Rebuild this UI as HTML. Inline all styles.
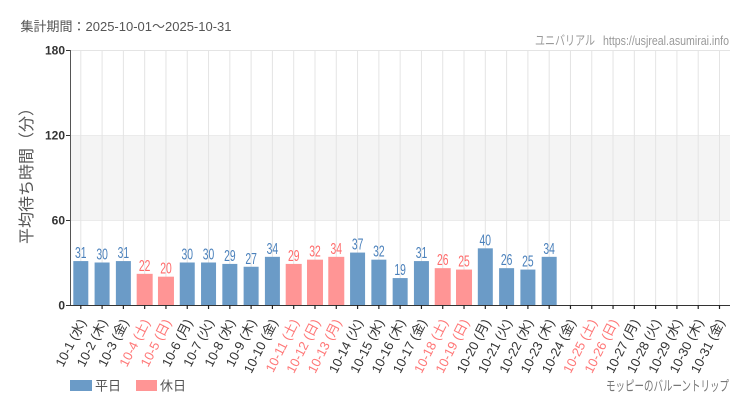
<!DOCTYPE html>
<html><head><meta charset="utf-8"><style>
html,body{margin:0;padding:0;background:#fff;}
svg{display:block;}
text{font-family:"Liberation Sans","Noto Sans CJK JP",sans-serif;}
</style></head><body>
<svg width="750" height="410" viewBox="0 0 750 410" xmlns="http://www.w3.org/2000/svg">
<rect width="750" height="410" fill="#fff"/>
<text x="20.5" y="31" font-size="13" fill="#555">集計期間：2025-10-01～2025-10-31</text>
<text x="535" y="45" font-size="13" fill="#999" textLength="60" lengthAdjust="spacingAndGlyphs">ユニバリアル</text>
<text x="603" y="45" font-size="13" fill="#999" textLength="126" lengthAdjust="spacingAndGlyphs">https://usjreal.asumirai.info</text>
<!-- band -->
<rect x="70" y="135" width="660" height="85" fill="#f4f4f4"/>
<line x1="70" y1="50.5" x2="730" y2="50.5" stroke="#e4e4e4" stroke-width="1"/>
<line x1="70" y1="135.5" x2="730" y2="135.5" stroke="#ebebeb" stroke-width="1"/>
<line x1="70" y1="220.5" x2="730" y2="220.5" stroke="#ebebeb" stroke-width="1"/>
<g stroke="#e4e4e4" stroke-width="1">
<line x1="80.8" y1="50" x2="80.8" y2="305"/><line x1="102.09" y1="50" x2="102.09" y2="305"/><line x1="123.38" y1="50" x2="123.38" y2="305"/><line x1="144.67" y1="50" x2="144.67" y2="305"/><line x1="165.96" y1="50" x2="165.96" y2="305"/><line x1="187.25" y1="50" x2="187.25" y2="305"/><line x1="208.54" y1="50" x2="208.54" y2="305"/><line x1="229.83" y1="50" x2="229.83" y2="305"/><line x1="251.12" y1="50" x2="251.12" y2="305"/><line x1="272.41" y1="50" x2="272.41" y2="305"/><line x1="293.7" y1="50" x2="293.7" y2="305"/><line x1="314.99" y1="50" x2="314.99" y2="305"/><line x1="336.28" y1="50" x2="336.28" y2="305"/><line x1="357.57" y1="50" x2="357.57" y2="305"/><line x1="378.86" y1="50" x2="378.86" y2="305"/><line x1="400.15" y1="50" x2="400.15" y2="305"/><line x1="421.44" y1="50" x2="421.44" y2="305"/><line x1="442.73" y1="50" x2="442.73" y2="305"/><line x1="464.02" y1="50" x2="464.02" y2="305"/><line x1="485.31" y1="50" x2="485.31" y2="305"/><line x1="506.6" y1="50" x2="506.6" y2="305"/><line x1="527.89" y1="50" x2="527.89" y2="305"/><line x1="549.18" y1="50" x2="549.18" y2="305"/><line x1="570.47" y1="50" x2="570.47" y2="305"/><line x1="591.76" y1="50" x2="591.76" y2="305"/><line x1="613.05" y1="50" x2="613.05" y2="305"/><line x1="634.34" y1="50" x2="634.34" y2="305"/><line x1="655.63" y1="50" x2="655.63" y2="305"/><line x1="676.92" y1="50" x2="676.92" y2="305"/><line x1="698.21" y1="50" x2="698.21" y2="305"/><line x1="719.5" y1="50" x2="719.5" y2="305"/>
</g>
<!-- bars -->
<g fill="#6b9bc7">
<rect x="73.3" y="261.08" width="15" height="43.92"/>
<rect x="94.59" y="262.5" width="15" height="42.5"/>
<rect x="115.88" y="261.08" width="15" height="43.92"/>
<rect x="179.75" y="262.5" width="15" height="42.5"/>
<rect x="201.04" y="262.5" width="15" height="42.5"/>
<rect x="222.33" y="263.92" width="15" height="41.08"/>
<rect x="243.62" y="266.75" width="15" height="38.25"/>
<rect x="264.91" y="256.83" width="15" height="48.17"/>
<rect x="350.07" y="252.58" width="15" height="52.42"/>
<rect x="371.36" y="259.67" width="15" height="45.33"/>
<rect x="392.65" y="278.08" width="15" height="26.92"/>
<rect x="413.94" y="261.08" width="15" height="43.92"/>
<rect x="477.81" y="248.33" width="15" height="56.67"/>
<rect x="499.1" y="268.17" width="15" height="36.83"/>
<rect x="520.39" y="269.58" width="15" height="35.42"/>
<rect x="541.68" y="256.83" width="15" height="48.17"/>
</g>
<g fill="#ff9595">
<rect x="136.67" y="273.83" width="16" height="31.17"/>
<rect x="157.96" y="276.67" width="16" height="28.33"/>
<rect x="285.7" y="263.92" width="16" height="41.08"/>
<rect x="306.99" y="259.67" width="16" height="45.33"/>
<rect x="328.28" y="256.83" width="16" height="48.17"/>
<rect x="434.73" y="268.17" width="16" height="36.83"/>
<rect x="456.02" y="269.58" width="16" height="35.42"/>
</g>
<!-- data labels -->
<g font-size="16" text-anchor="middle">
<text x="80.8" y="258.08" fill="#4a80bb" textLength="11.5" lengthAdjust="spacingAndGlyphs">31</text>
<text x="102.09" y="259.5" fill="#4a80bb" textLength="11.5" lengthAdjust="spacingAndGlyphs">30</text>
<text x="123.38" y="258.08" fill="#4a80bb" textLength="11.5" lengthAdjust="spacingAndGlyphs">31</text>
<text x="144.67" y="270.83" fill="#ff6b6b" textLength="11.5" lengthAdjust="spacingAndGlyphs">22</text>
<text x="165.96" y="273.67" fill="#ff6b6b" textLength="11.5" lengthAdjust="spacingAndGlyphs">20</text>
<text x="187.25" y="259.5" fill="#4a80bb" textLength="11.5" lengthAdjust="spacingAndGlyphs">30</text>
<text x="208.54" y="259.5" fill="#4a80bb" textLength="11.5" lengthAdjust="spacingAndGlyphs">30</text>
<text x="229.83" y="260.92" fill="#4a80bb" textLength="11.5" lengthAdjust="spacingAndGlyphs">29</text>
<text x="251.12" y="263.75" fill="#4a80bb" textLength="11.5" lengthAdjust="spacingAndGlyphs">27</text>
<text x="272.41" y="253.83" fill="#4a80bb" textLength="11.5" lengthAdjust="spacingAndGlyphs">34</text>
<text x="293.7" y="260.92" fill="#ff6b6b" textLength="11.5" lengthAdjust="spacingAndGlyphs">29</text>
<text x="314.99" y="256.67" fill="#ff6b6b" textLength="11.5" lengthAdjust="spacingAndGlyphs">32</text>
<text x="336.28" y="253.83" fill="#ff6b6b" textLength="11.5" lengthAdjust="spacingAndGlyphs">34</text>
<text x="357.57" y="249.58" fill="#4a80bb" textLength="11.5" lengthAdjust="spacingAndGlyphs">37</text>
<text x="378.86" y="256.67" fill="#4a80bb" textLength="11.5" lengthAdjust="spacingAndGlyphs">32</text>
<text x="400.15" y="275.08" fill="#4a80bb" textLength="11.5" lengthAdjust="spacingAndGlyphs">19</text>
<text x="421.44" y="258.08" fill="#4a80bb" textLength="11.5" lengthAdjust="spacingAndGlyphs">31</text>
<text x="442.73" y="265.17" fill="#ff6b6b" textLength="11.5" lengthAdjust="spacingAndGlyphs">26</text>
<text x="464.02" y="266.58" fill="#ff6b6b" textLength="11.5" lengthAdjust="spacingAndGlyphs">25</text>
<text x="485.31" y="245.33" fill="#4a80bb" textLength="11.5" lengthAdjust="spacingAndGlyphs">40</text>
<text x="506.6" y="265.17" fill="#4a80bb" textLength="11.5" lengthAdjust="spacingAndGlyphs">26</text>
<text x="527.89" y="266.58" fill="#4a80bb" textLength="11.5" lengthAdjust="spacingAndGlyphs">25</text>
<text x="549.18" y="253.83" fill="#4a80bb" textLength="11.5" lengthAdjust="spacingAndGlyphs">34</text>
</g>
<!-- axes -->
<line x1="70.5" y1="50" x2="70.5" y2="305" stroke="#555" stroke-width="1"/>
<line x1="70" y1="305.5" x2="730" y2="305.5" stroke="#333" stroke-width="1"/>
<g stroke="#333" stroke-width="1">
<line x1="66" y1="50.5" x2="70" y2="50.5"/><line x1="66" y1="135.5" x2="70" y2="135.5"/><line x1="66" y1="220.5" x2="70" y2="220.5"/><line x1="66" y1="305.5" x2="70" y2="305.5"/>
</g>
<g stroke="#222" stroke-width="1.2">
<line x1="80.8" y1="305" x2="80.8" y2="309"/><line x1="102.09" y1="305" x2="102.09" y2="309"/><line x1="123.38" y1="305" x2="123.38" y2="309"/><line x1="144.67" y1="305" x2="144.67" y2="309"/><line x1="165.96" y1="305" x2="165.96" y2="309"/><line x1="187.25" y1="305" x2="187.25" y2="309"/><line x1="208.54" y1="305" x2="208.54" y2="309"/><line x1="229.83" y1="305" x2="229.83" y2="309"/><line x1="251.12" y1="305" x2="251.12" y2="309"/><line x1="272.41" y1="305" x2="272.41" y2="309"/><line x1="293.7" y1="305" x2="293.7" y2="309"/><line x1="314.99" y1="305" x2="314.99" y2="309"/><line x1="336.28" y1="305" x2="336.28" y2="309"/><line x1="357.57" y1="305" x2="357.57" y2="309"/><line x1="378.86" y1="305" x2="378.86" y2="309"/><line x1="400.15" y1="305" x2="400.15" y2="309"/><line x1="421.44" y1="305" x2="421.44" y2="309"/><line x1="442.73" y1="305" x2="442.73" y2="309"/><line x1="464.02" y1="305" x2="464.02" y2="309"/><line x1="485.31" y1="305" x2="485.31" y2="309"/><line x1="506.6" y1="305" x2="506.6" y2="309"/><line x1="527.89" y1="305" x2="527.89" y2="309"/><line x1="549.18" y1="305" x2="549.18" y2="309"/><line x1="570.47" y1="305" x2="570.47" y2="309"/><line x1="591.76" y1="305" x2="591.76" y2="309"/><line x1="613.05" y1="305" x2="613.05" y2="309"/><line x1="634.34" y1="305" x2="634.34" y2="309"/><line x1="655.63" y1="305" x2="655.63" y2="309"/><line x1="676.92" y1="305" x2="676.92" y2="309"/><line x1="698.21" y1="305" x2="698.21" y2="309"/><line x1="719.5" y1="305" x2="719.5" y2="309"/>
</g>
<g font-size="12" fill="#333" text-anchor="end" font-weight="600">
<text x="65" y="54.5">180</text>
<text x="65" y="139.5">120</text>
<text x="65" y="224.5">60</text>
<text x="65" y="309.5">0</text>
</g>
<text transform="translate(32,172) rotate(-90)" font-size="16" fill="#555" text-anchor="middle">平均待ち時間（分）</text>
<!-- x labels -->
<g font-size="13" text-anchor="end">
<text transform="translate(86.3,322) rotate(-63)" fill="#333">10-1 (水)</text>
<text transform="translate(107.59,322) rotate(-63)" fill="#333">10-2 (木)</text>
<text transform="translate(128.88,322) rotate(-63)" fill="#333">10-3 (金)</text>
<text transform="translate(150.17,322) rotate(-63)" fill="#ff7777">10-4 (土)</text>
<text transform="translate(171.46,322) rotate(-63)" fill="#ff7777">10-5 (日)</text>
<text transform="translate(192.75,322) rotate(-63)" fill="#333">10-6 (月)</text>
<text transform="translate(214.04,322) rotate(-63)" fill="#333">10-7 (火)</text>
<text transform="translate(235.33,322) rotate(-63)" fill="#333">10-8 (水)</text>
<text transform="translate(256.62,322) rotate(-63)" fill="#333">10-9 (木)</text>
<text transform="translate(277.91,322) rotate(-63)" fill="#333">10-10 (金)</text>
<text transform="translate(299.2,322) rotate(-63)" fill="#ff7777">10-11 (土)</text>
<text transform="translate(320.49,322) rotate(-63)" fill="#ff7777">10-12 (日)</text>
<text transform="translate(341.78,322) rotate(-63)" fill="#ff7777">10-13 (月)</text>
<text transform="translate(363.07,322) rotate(-63)" fill="#333">10-14 (火)</text>
<text transform="translate(384.36,322) rotate(-63)" fill="#333">10-15 (水)</text>
<text transform="translate(405.65,322) rotate(-63)" fill="#333">10-16 (木)</text>
<text transform="translate(426.94,322) rotate(-63)" fill="#333">10-17 (金)</text>
<text transform="translate(448.23,322) rotate(-63)" fill="#ff7777">10-18 (土)</text>
<text transform="translate(469.52,322) rotate(-63)" fill="#ff7777">10-19 (日)</text>
<text transform="translate(490.81,322) rotate(-63)" fill="#333">10-20 (月)</text>
<text transform="translate(512.1,322) rotate(-63)" fill="#333">10-21 (火)</text>
<text transform="translate(533.39,322) rotate(-63)" fill="#333">10-22 (水)</text>
<text transform="translate(554.68,322) rotate(-63)" fill="#333">10-23 (木)</text>
<text transform="translate(575.97,322) rotate(-63)" fill="#333">10-24 (金)</text>
<text transform="translate(597.26,322) rotate(-63)" fill="#ff7777">10-25 (土)</text>
<text transform="translate(618.55,322) rotate(-63)" fill="#ff7777">10-26 (日)</text>
<text transform="translate(639.84,322) rotate(-63)" fill="#333">10-27 (月)</text>
<text transform="translate(661.13,322) rotate(-63)" fill="#333">10-28 (火)</text>
<text transform="translate(682.42,322) rotate(-63)" fill="#333">10-29 (水)</text>
<text transform="translate(703.71,322) rotate(-63)" fill="#333">10-30 (木)</text>
<text transform="translate(725,322) rotate(-63)" fill="#333">10-31 (金)</text>
</g>
<!-- legend -->
<rect x="70" y="380" width="22" height="11" fill="#6b9bc7"/>
<text x="95" y="390.5" font-size="13" fill="#555">平日</text>
<rect x="136" y="380" width="21" height="11" fill="#ff9595"/>
<text x="160" y="390.5" font-size="13" fill="#555">休日</text>
<text x="606" y="391" font-size="14" fill="#777" textLength="123" lengthAdjust="spacingAndGlyphs">モッピーのバルーントリップ</text>
</svg>
</body></html>
